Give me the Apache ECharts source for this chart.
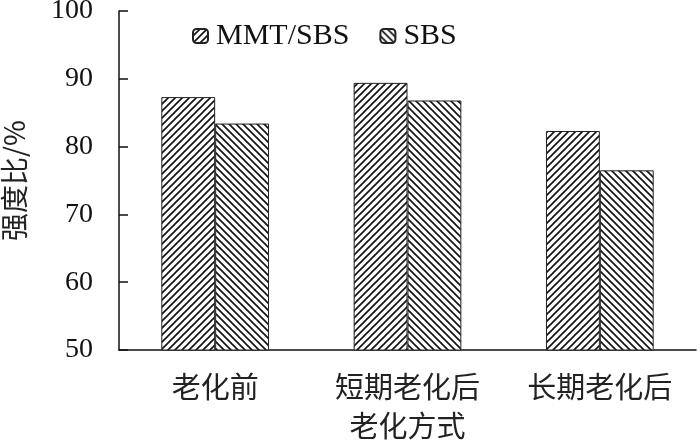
<!DOCTYPE html>
<html>
<head>
<meta charset="utf-8">
<script src="https://cdn.jsdelivr.net/npm/echarts@6/dist/echarts.min.js"></script>
<style>
  html, body { margin: 0; padding: 0; background: #fff; }
  #chart { width: 700px; height: 443px; }
</style>
</head>
<body>
<div id="chart"></div>
<script>
// 数据
var categories = ["老化前", "短期老化后", "长期老化后"];
var seriesNames = ["MMT/SBS", "SBS"];
var mmtSbs = [87.3, 89.4, 82.3];
var sbs = [83.4, 86.8, 76.5];

// 斜线填充
function hatch(dir) {
  var s = 7;
  var c = document.createElement("canvas");
  c.width = s;
  c.height = s;
  var ctx = c.getContext("2d");
  ctx.fillStyle = "#fff";
  ctx.fillRect(0, 0, s, s);
  ctx.strokeStyle = "#111";
  ctx.lineWidth = 1.6;
  ctx.beginPath();
  if (dir === "/") {
    ctx.moveTo(-1, s + 1); ctx.lineTo(s + 1, -1);
    ctx.moveTo(-1, 1); ctx.lineTo(1, -1);
    ctx.moveTo(s - 1, s + 1); ctx.lineTo(s + 1, s - 1);
  } else {
    ctx.moveTo(-1, -1); ctx.lineTo(s + 1, s + 1);
    ctx.moveTo(s - 1, -1); ctx.lineTo(s + 1, 1);
    ctx.moveTo(-1, s - 1); ctx.lineTo(1, s + 1);
  }
  ctx.stroke();
  return { image: c, repeat: "repeat" };
}

var chart = echarts.init(document.getElementById("chart"));
var serif = "'Liberation Serif', 'Times New Roman', 'Noto Sans CJK SC', serif";
var cjk = "'Noto Sans CJK SC', sans-serif";

chart.setOption({
  animation: false,
  backgroundColor: "#fff",
  grid: { left: 119, right: 4, top: 11, bottom: 93, outerBoundsMode: "none" },
  legend: {
    left: 187,
    top: 16,
    itemWidth: 15,
    itemHeight: 14,
    itemGap: 30,
    data: seriesNames,
    textStyle: { fontFamily: serif, fontSize: 30, color: "#111", padding: [0, 0, 0, 3] }
  },
  xAxis: {
    type: "category",
    data: categories,
    name: "老化方式",
    nameLocation: "middle",
    nameGap: 61,
    nameTextStyle: { fontFamily: cjk, fontSize: 29, color: "#222" },
    axisLine: { lineStyle: { color: "#111", width: 1.5 } },
    axisTick: { inside: true, length: 8, lineStyle: { color: "#111", width: 1.5 } },
    axisLabel: { margin: 22, fontFamily: cjk, fontSize: 29, color: "#222" }
  },
  yAxis: {
    type: "value",
    min: 50,
    max: 100,
    interval: 10,
    name: "强度比/%",
    nameLocation: "middle",
    nameGap: 91,
    nameTextStyle: { fontFamily: cjk, fontSize: 28, color: "#222" },
    splitLine: { show: false },
    axisLine: { show: true, lineStyle: { color: "#111", width: 1.5 } },
    axisTick: { show: true, inside: true, length: 9, lineStyle: { color: "#111", width: 1.5 } },
    axisLabel: { margin: 26, fontFamily: serif, fontSize: 28, color: "#111" }
  },
  series: [
    {
      name: seriesNames[0],
      type: "bar",
      data: mmtSbs,
      barGap: "0%",
      barCategoryGap: "44%",
      itemStyle: { color: hatch("/"), borderColor: "#222", borderWidth: 1 }
    },
    {
      name: seriesNames[1],
      type: "bar",
      data: sbs,
      itemStyle: { color: hatch("\\"), borderColor: "#222", borderWidth: 1 }
    }
  ]
});
</script>
</body>
</html>
